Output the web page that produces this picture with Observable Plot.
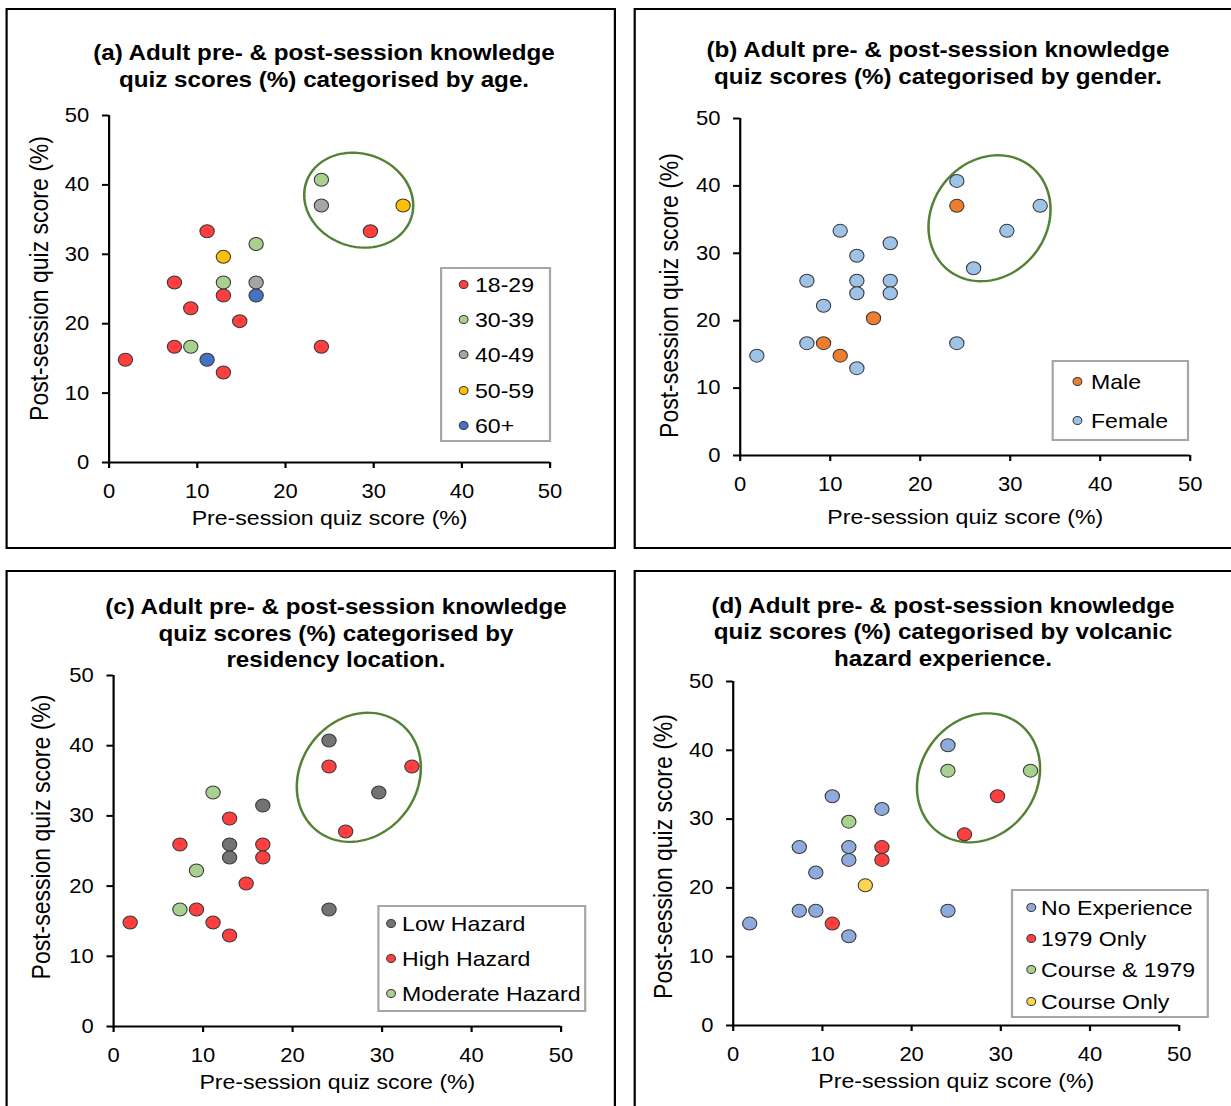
<!DOCTYPE html>
<html>
<head>
<meta charset="utf-8">
<script src="https://cdn.jsdelivr.net/npm/d3@7"></script>
<script src="https://cdn.jsdelivr.net/npm/@observablehq/plot@0.6"></script>
<style>
html, body { margin: 0; padding: 0; background: #fff; overflow: hidden; }
#stage { position: relative; width: 1119.1px; height: 1106px; transform: scaleX(1.1); transform-origin: 0 0;
  font-family: "Liberation Sans", Arial, sans-serif; color: #000; overflow: hidden; }
.panel { position: absolute; border: 2px solid #000; box-sizing: border-box; }
.chart { position: absolute; }
.title { position: absolute; width: 600px; text-align: center; font-weight: bold; font-size: 22px;
  line-height: 26.7px; white-space: nowrap; }
.legend { position: absolute; border: 2px solid #a6a6a6; box-sizing: border-box; background: #fff; }
.sw { position: absolute; width: 7px; height: 7px; border: 1px solid #3a3a3a; border-radius: 50%; }
.lab { position: absolute; font-size: 21px; line-height: 21px; white-space: nowrap; }
</style>
</head>
<body>
<div id="stage"></div>
<script>
// ---------------- data ----------------
const xTicks = [0, 10, 20, 30, 40, 50];
const yTicks = [0, 10, 20, 30, 40, 50];
const xLabel = "Pre-session quiz score (%)";
const yLabel = "Post-session quiz score (%)";

const preScore  = [1.85, 7.41, 7.41, 9.26, 9.26, 11.11, 11.11, 12.96, 12.96, 12.96, 12.96, 14.81, 16.67, 16.67, 16.67, 24.07, 24.07, 24.07, 25.93, 29.63, 33.33];
const postScore = [14.81, 25.93, 16.67, 22.22, 16.67, 33.33, 14.81, 29.63, 25.93, 24.07, 12.96, 20.37, 31.48, 25.93, 24.07, 40.74, 37.04, 16.67, 27.78, 33.33, 37.04];

const ageCats = ["18-29", "30-39", "40-49", "50-59", "60+"];
const ageGroup = ["18-29", "18-29", "18-29", "18-29", "30-39", "18-29", "60+", "50-59", "30-39", "18-29", "18-29", "18-29", "30-39", "40-49", "60+", "30-39", "40-49", "18-29", null, "18-29", "50-59"];

const genderCats = ["Male", "Female"];
const genderGroup = ["Female", "Female", "Female", "Female", "Male", "Female", "Male", "Female", "Female", "Female", "Female", "Male", "Female", "Female", "Female", "Female", "Male", "Female", "Female", "Female", "Female"];

const residencyCats = ["Low Hazard", "High Hazard", "Moderate Hazard"];
const residencyGroup = ["High Hazard", "High Hazard", "Moderate Hazard", "Moderate Hazard", "High Hazard", "Moderate Hazard", "High Hazard", "High Hazard", "Low Hazard", "Low Hazard", "High Hazard", "High Hazard", "Low Hazard", "High Hazard", "High Hazard", "Low Hazard", "High Hazard", "Low Hazard", "High Hazard", "Low Hazard", "High Hazard"];

const experienceCats = ["No Experience", "1979 Only", "Course & 1979", "Course Only"];
const experienceGroup = ["No Experience", "No Experience", "No Experience", "No Experience", "No Experience", "No Experience", "1979 Only", "Course & 1979", "No Experience", "No Experience", "No Experience", "Course Only", "No Experience", "1979 Only", "1979 Only", "No Experience", "Course & 1979", "No Experience", "1979 Only", "1979 Only", "Course & 1979"];

const titleA = ["(a) Adult pre- & post-session knowledge", "quiz scores (%) categorised by age."];
const titleB = ["(b) Adult pre- & post-session knowledge", "quiz scores (%) categorised by gender."];
const titleC = ["(c) Adult pre- & post-session knowledge", "quiz scores (%) categorised by", "residency location."];
const titleD = ["(d) Adult pre- & post-session knowledge", "quiz scores (%) categorised by volcanic", "hazard experience."];

// ---------------- styles / layout ----------------
const RED = "#ff3f3f", LGREEN = "#a9d18e";
const ageColors = [RED, LGREEN, "#a5a5a5", "#ffc000", "#4472c4"];
const genderColors = ["#ed7d31", "#9dc3e6"];
const residencyColors = ["#737373", RED, LGREEN];
const experienceColors = ["#8faadc", RED, LGREEN, "#ffd54f"];

const SX = 1.1; // horizontal stretch of the whole figure
const STAGE_W = 1231 / SX;

const panels = [
  { group: ageGroup, cats: ageCats, colors: ageColors, title: titleA,
    box: [4.5, 8, 555.5, 541], svg: [4.5, 8, 555.5, 541],
    frame: [108 / SX, 115, 549 / SX, 462], titleCx: 324 / SX, titleTop: 40.4,
    ylab: [-62.7, -10.5], xlabDy: 55.3,
    ell: { cx: 28.3, cy: 37.8, rx: 55.4, ry: 46.4, rot: 19.3 },
    legend: { box: [400, 267, 100.5, 175], dotX: 21.8, textX: 31.8, ys: [284, 319, 354, 390, 425] } },
  { group: genderGroup, cats: genderCats, colors: genderColors, title: titleB,
    box: [576.3, 8, 600, 541], svg: [576.3, 8, STAGE_W - 576.3, 541],
    frame: [740 / SX, 118, 1190 / SX, 455], titleCx: 938 / SX, titleTop: 37.4,
    ylab: [-63.7, 8.5], xlabDy: 61.3,
    ell: { cx: 27.7, cy: 35.2, rx: 57.4, ry: 66.3, rot: 38.5 },
    legend: { box: [956.4, 360, 124.6, 81], dotX: 23.6, textX: 35.4, ys: [381, 420] } },
  { group: residencyGroup, cats: residencyCats, colors: residencyColors, title: titleC,
    box: [4.5, 570, 555.5, 600], svg: [4.5, 570, 555.5, 536],
    frame: [112.5 / SX, 675, 560 / SX, 1026], titleCx: 336 / SX, titleTop: 594,
    ylab: [-64.8, -14], xlabDy: 55.6,
    ell: { cx: 27.4, cy: 35.5, rx: 58.3, ry: 67.9, rot: 37.4 },
    legend: { box: [342.7, 905, 190.5, 107], dotX: 13.3, textX: 22.8, ys: [923, 958, 993] } },
  { group: experienceGroup, cats: experienceCats, colors: experienceColors, title: titleD,
    box: [576.3, 570, 600, 600], svg: [576.3, 570, STAGE_W - 576.3, 536],
    frame: [733 / SX, 681, 1179 / SX, 1025], titleCx: 943 / SX, titleTop: 592.5,
    ylab: [-63, 3], xlabDy: 56,
    ell: { cx: 27.5, cy: 36.0, rx: 58.0, ry: 67.7, rot: 36 },
    legend: { box: [919, 889, 179.5, 129], dotX: 18.3, textX: 27.4, ys: [907, 938, 969, 1001] } }
];

function ellipsePoints(e, kx, ky) {
  const n = 160, th = e.rot * Math.PI / 180;
  return d3.range(n).map(i => {
    const t = 2 * Math.PI * i / n;
    const px = e.rx * Math.cos(t), py = e.ry * Math.sin(t);
    const X = px * Math.cos(th) - py * Math.sin(th);
    const Y = px * Math.sin(th) + py * Math.cos(th);
    return { x: e.cx + X / kx, y: e.cy - Y / ky };
  });
}

const stage = document.getElementById("stage");

for (const P of panels) {
  const box = document.createElement("div");
  box.className = "panel";
  Object.assign(box.style, { left: P.box[0] + "px", top: P.box[1] + "px", width: P.box[2] + "px", height: P.box[3] + "px" });
  stage.appendChild(box);
}

for (const P of panels) {
  const [sx, sy, sw, sh] = P.svg;
  const [fl, ft, fr, fb] = P.frame;
  const data = preScore.map((x, i) => ({ x, y: postScore[i], g: P.group[i] })).filter(d => d.g != null);
  const kx = (fr - fl) * SX / 50, ky = (fb - ft) / 50;
  const ell = ellipsePoints(P.ell, kx, ky);

  const chart = Plot.plot({
    width: sw, height: sh,
    marginLeft: fl - sx, marginRight: sx + sw - fr,
    marginTop: ft - sy, marginBottom: sy + sh - fb,
    x: { domain: [0, 50] },
    y: { domain: [0, 50] },
    color: { domain: P.cats, range: P.colors },
    style: { fontFamily: "'Liberation Sans', Arial, sans-serif", fontSize: "20px", color: "#000", background: "transparent", overflow: "visible" },
    marks: [
      Plot.axisX({ ticks: xTicks, tickSize: 6, tickPadding: 15, strokeWidth: 2, label: null }),
      Plot.axisY({ ticks: yTicks, tickSize: 6, tickPadding: 12, strokeWidth: 2, label: null }),
      Plot.ruleX([0], { stroke: "#000", strokeWidth: 2 }),
      Plot.ruleY([0], { stroke: "#000", strokeWidth: 2 }),
      Plot.line(ell, { x: "x", y: "y", curve: "linear-closed", stroke: "#548235", strokeWidth: 2.3 }),
      Plot.dot(data, { x: "x", y: "y", fill: "g", r: 6.5, stroke: "#3a3a3a", strokeWidth: 1 }),
      Plot.text([xLabel], { text: d => d, frameAnchor: "bottom", textAnchor: "middle", lineAnchor: "middle", dy: P.xlabDy, fontSize: 21 }),
      Plot.text([yLabel], { text: d => d, frameAnchor: "left", textAnchor: "middle", lineAnchor: "middle", rotate: -90, dx: P.ylab[0], dy: P.ylab[1], fontSize: 23 })
    ]
  });
  chart.classList.add("chart");
  chart.style.position = "absolute";
  chart.style.left = sx + "px";
  chart.style.top = sy + "px";
  stage.appendChild(chart);

  const t = document.createElement("div");
  t.className = "title";
  t.style.left = (P.titleCx - 300) + "px";
  t.style.top = P.titleTop + "px";
  t.innerHTML = P.title.map(s => s.replace(/&/g, "&amp;")).join("<br>");
  stage.appendChild(t);

  const L = P.legend;
  const lg = document.createElement("div");
  lg.className = "legend";
  Object.assign(lg.style, { left: L.box[0] + "px", top: L.box[1] + "px", width: L.box[2] + "px", height: L.box[3] + "px" });
  P.cats.forEach((c, i) => {
    const yRel = L.ys[i] - L.box[1] - 2;
    const sw_ = document.createElement("span");
    sw_.className = "sw";
    sw_.style.background = P.colors[i];
    sw_.style.left = (L.dotX - 2 - 4.5) + "px";
    sw_.style.top = (yRel - 4.5) + "px";
    lg.appendChild(sw_);
    const lb = document.createElement("span");
    lb.className = "lab";
    lb.textContent = c;
    lb.style.left = (L.textX - 2) + "px";
    lb.style.top = (yRel - 10.5) + "px";
    lg.appendChild(lb);
  });
  stage.appendChild(lg);
}
</script>
</body>
</html>
